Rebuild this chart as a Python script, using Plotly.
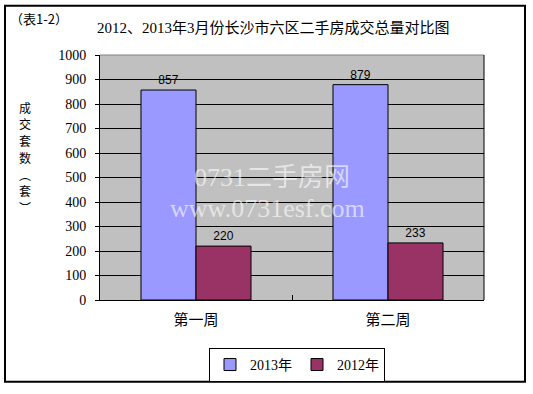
import plotly.graph_objects as go

categories = ["第一周", "第二周"]
series_names = ["2013年", "2012年"]
values_2013 = [857, 879]
values_2012 = [220, 233]
y_ticks = [0, 100, 200, 300, 400, 500, 600, 700, 800, 900, 1000]
y_title_chars = ["成", "交", "套", "数", "︵", "套", "︶"]

W, H = 533, 394
L, R, T, B = 100, 49, 55, 90
pw, ph = W - L - R, H - T - B

def px_x(x):
    return (x - L) / pw

def px_y(y):
    return (H - B - y) / ph

fig = go.Figure()
fig.add_trace(go.Bar(
    x=categories, y=values_2013, name=series_names[0],
    marker=dict(color="#9999FF", line=dict(color="black", width=1)),
    text=[str(v) for v in values_2013], textposition="outside",
    textfont=dict(family="Liberation Sans, Arial", size=12, color="black"),
    cliponaxis=False,
))
fig.add_trace(go.Bar(
    x=categories, y=values_2012, name=series_names[1],
    marker=dict(color="#993366", line=dict(color="black", width=1)),
    text=[str(v) for v in values_2012], textposition="outside",
    textfont=dict(family="Liberation Sans, Arial", size=12, color="black"),
    cliponaxis=False,
))

cjk = "Liberation Serif, Noto Sans CJK SC"

fig.update_layout(
    width=W, height=H,
    margin=dict(l=L, r=R, t=T, b=B, pad=0),
    paper_bgcolor="white", plot_bgcolor="#C0C0C0",
    barmode="group", bargap=0.427, bargroupgap=0,
    font=dict(family=cjk, size=12, color="black"),
    showlegend=True,
    legend=dict(
        orientation="h", x=px_x(297), y=px_y(370), xanchor="center", yanchor="middle",
        bordercolor="black", borderwidth=1, bgcolor="white",
        font=dict(family=cjk, size=14), itemwidth=30, tracegroupgap=0,
    ),
    xaxis=dict(
        showgrid=False, showline=True, linecolor="black", linewidth=1,
        ticks="inside", tickson="boundaries", ticklen=5, tickcolor="black",
        tickfont=dict(family="Noto Sans CJK SC", size=15), mirror=False,
        ticklabelstandoff=6,
    ),
    yaxis=dict(
        range=[0, 1000], tickvals=y_ticks, showgrid=True, gridcolor="black", gridwidth=1,
        showline=True, linecolor="black", linewidth=1, ticks="outside", ticklen=4,
        tickcolor="black", tickfont=dict(family="Liberation Serif", size=14),
        zeroline=False, ticklabelstandoff=6,
    ),
)

shapes = [
    dict(type="rect", xref="paper", yref="paper",
         x0=px_x(5), x1=px_x(525), y0=px_y(387), y1=px_y(5),
         line=dict(color="black", width=2), fillcolor="rgba(0,0,0,0)", layer="below"),
    dict(type="line", xref="paper", yref="paper", x0=0, x1=1, y0=1, y1=1,
         line=dict(color="#808080", width=1)),
    dict(type="line", xref="paper", yref="paper", x0=1, x1=1, y0=0, y1=1,
         line=dict(color="black", width=1)),
]
fig.update_layout(shapes=shapes)

annotations = [
    dict(text="（表1-2）", xref="paper", yref="paper", x=px_x(8), y=px_y(18),
         xanchor="left", yanchor="middle", showarrow=False,
         font=dict(family="Noto Sans CJK SC", size=13)),
    dict(text="2012、2013年3月份长沙市六区二手房成交总量对比图", xref="paper", yref="paper",
         x=px_x(273), y=px_y(27), xanchor="center", yanchor="middle", showarrow=False,
         font=dict(family=cjk, size=15)),
    dict(text="0731二手房网", xref="paper", yref="paper", x=px_x(272), y=px_y(180),
         xanchor="center", yanchor="middle", showarrow=False,
         font=dict(family="Liberation Serif, Noto Sans CJK SC", size=26, color="rgba(255,255,255,0.6)")),
    dict(text="www.0731esf.com", xref="paper", yref="paper", x=px_x(267), y=px_y(211),
         xanchor="center", yanchor="middle", showarrow=False,
         font=dict(family="Liberation Serif", size=26, color="rgba(255,255,255,0.6)")),
]
y_positions = [108, 125, 142, 159, 176, 193, 210]
for ch, yy in zip(y_title_chars, y_positions):
    annotations.append(dict(text=ch, xref="paper", yref="paper", x=px_x(25), y=px_y(yy),
                            xanchor="center", yanchor="middle", showarrow=False, borderpad=0,
                            font=dict(family="Noto Sans CJK SC", size=12)))
fig.update_layout(annotations=annotations)

fig.write_html("out.html", config={"displayModeBar": False},
               post_script="document.body.style.margin='0';")
